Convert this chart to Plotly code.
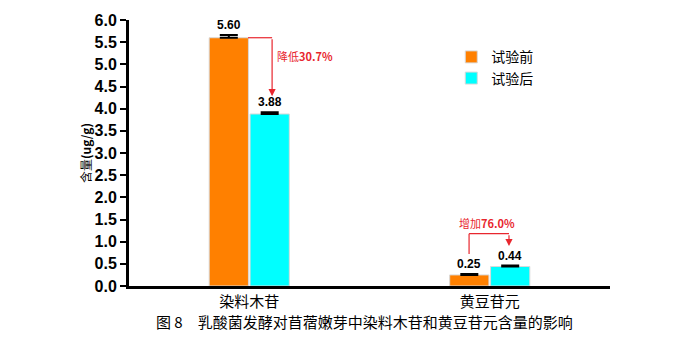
import plotly.graph_objects as go

categories = ["染料木苷", "黄豆苷元"]
before_vals = [5.60, 0.25]
after_vals = [3.88, 0.44]
before_err = [0.06, 0.02]
after_err = [0.04, 0.02]
series_names = ["试验前", "试验后"]
y_ticks = [0.0, 0.5, 1.0, 1.5, 2.0, 2.5, 3.0, 3.5, 4.0, 4.5, 5.0, 5.5, 6.0]
change_labels = ["降低<b>30.7%</b>", "增加<b>76.0%</b>"]

ORANGE = "#ff8000"
CYAN = "#00ffff"
RED = "#e8262e"
CJK = "Noto Sans CJK SC"
NUM = "Liberation Sans, Arial"

fig = go.Figure()
fig.add_trace(go.Bar(
    x=categories, y=before_vals, name=series_names[0],
    marker=dict(color=ORANGE, line=dict(color="#d9d9d9", width=1)),
    error_y=dict(type="data", array=before_err, symmetric=False, arrayminus=[0, 0],
                 color="black", thickness=2, width=9),
))
fig.add_trace(go.Bar(
    x=categories, y=after_vals, name=series_names[1],
    marker=dict(color=CYAN, line=dict(color="#d9d9d9", width=1)),
    error_y=dict(type="data", array=after_err, symmetric=False, arrayminus=[0, 0],
                 color="black", thickness=2, width=9),
))

off = 0.086
# value labels
for i in range(2):
    fig.add_annotation(x=i - off, y=before_vals[i] + before_err[i], text="<b>%.2f</b>" % before_vals[i],
                       showarrow=False, yanchor="bottom", yshift=1,
                       font=dict(family=NUM, size=12, color="black"))
    fig.add_annotation(x=i + off, y=after_vals[i] + after_err[i], text="<b>%.2f</b>" % after_vals[i],
                       showarrow=False, yanchor="bottom", yshift=1,
                       font=dict(family=NUM, size=12, color="black"))

# bracket 1: decrease
x1 = 0.095
fig.add_shape(type="line", x0=-0.005, x1=x1, y0=before_vals[0], y1=before_vals[0],
              line=dict(color=RED, width=1.2))
fig.add_annotation(x=x1, y=4.28, ax=x1, ay=before_vals[0], axref="x", ayref="y",
                   showarrow=True, arrowhead=2, arrowsize=1.2, arrowwidth=1.2, arrowcolor=RED, text="")
fig.add_annotation(x=x1 + 0.01, y=5.18, text=change_labels[0], showarrow=False, xanchor="left",
                   font=dict(family=CJK, size=11, color=RED))

# bracket 2: increase
xa = 1 - off
xb = 1 + 0.08
ytop = 1.18
fig.add_shape(type="line", x0=xa, x1=xa, y0=0.72, y1=ytop, line=dict(color=RED, width=1.2))
fig.add_shape(type="line", x0=xa, x1=xb, y0=ytop, y1=ytop, line=dict(color=RED, width=1.2))
fig.add_annotation(x=xb, y=0.90, ax=xb, ay=ytop, axref="x", ayref="y",
                   showarrow=True, arrowhead=2, arrowsize=1.2, arrowwidth=1.2, arrowcolor=RED, text="")
fig.add_annotation(x=1 - 0.01, y=1.43, text=change_labels[1], showarrow=False,
                   font=dict(family=CJK, size=11, color=RED))

# figure caption
fig.add_annotation(xref="paper", yref="paper", x=0.49, y=-0.085, yanchor="top",
                   text="图 8　乳酸菌发酵对苜蓿嫩芽中染料木苷和黄豆苷元含量的影响",
                   showarrow=False, font=dict(family=CJK, size=15, color="black"))

fig.update_layout(
    width=680, height=340,
    margin=dict(l=129, r=70, t=16, b=54),
    paper_bgcolor="white", plot_bgcolor="white",
    barmode="group", bargap=0.66, bargroupgap=0.04,
    showlegend=True,
    legend=dict(x=0.67, y=0.92, xanchor="left", yanchor="top",
                font=dict(family=CJK, size=14, color="black"),
                itemwidth=30, tracegroupgap=0, bgcolor="rgba(0,0,0,0)"),
    xaxis=dict(showline=True, linecolor="black", linewidth=3, ticks="",
               tickfont=dict(family=CJK, size=15, color="black"), showgrid=False),
    yaxis=dict(range=[0, 6], tickvals=y_ticks, ticktext=["<b>%.1f</b>" % v for v in y_ticks],
               showline=True, linecolor="black", linewidth=3, ticks="outside", ticklen=6,
               tickwidth=2, tickcolor="black", showgrid=False, zeroline=False,
               tickfont=dict(family=NUM, size=16, color="black"),
               title=dict(text="含量<b>(ug/g)</b>", font=dict(family=CJK, size=12, color="black"),
                          standoff=1)),
)

fig.write_html("out.html")
